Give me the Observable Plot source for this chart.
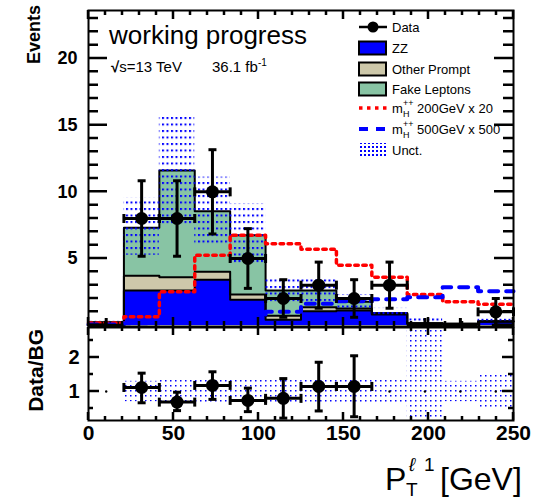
<!DOCTYPE html>
<html>
<head>
<meta charset="utf-8">
<script src="https://cdn.jsdelivr.net/npm/d3@7"></script>
<script src="https://cdn.jsdelivr.net/npm/@observablehq/plot@0.6"></script>
<style>
  body { margin: 0; background: #fff; }
  #chart { position: relative; width: 540px; height: 502px; font-family: "Liberation Sans", Arial, sans-serif; }
  #chart > svg { position: absolute; left: 0; overflow: visible; }
</style>
</head>
<body>
<div id="chart"></div>
<script>
// Leading-lepton pT histogram: 12 bins of 250/12 GeV
const binEdges = [0, 20.83, 41.67, 62.5, 83.33, 104.17, 125, 145.83, 166.67, 187.5, 208.33, 229.17, 250];

// Stacked backgrounds (events per bin)
const zz          = [0.20, 2.60, 2.60, 3.40, 1.90, 0.40, 1.05, 1.10, 0.80, 0.10, 0.05, 0.25];
const otherPrompt = [0.00, 1.10, 1.00, 0.60, 0.40, 0.30, 0.30, 0.15, 0.10, 0.05, 0.05, 0.05];
const fakeLeptons = [0.00, 3.60, 8.00, 4.55, 4.45, 1.90, 1.25, 0.50, 0.00, 0.00, 0.00, 0.00];

// Background uncertainty band
const uncLow  = [0.10, 5.25, 7.50, 5.95, 4.40, 1.65, 1.65, 1.20, 0.55, 0.00, 0.05, 0.15];
const uncHigh = [0.30, 9.55, 15.75, 11.10, 9.10, 3.55, 3.58, 2.30, 1.27, 0.70, 0.17, 0.45];

// Signal hypotheses (scaled)
const sig200 = [0.17, 0.63, 2.50, 5.25, 6.75, 6.10, 5.70, 4.50, 3.60, 2.30, 1.75, 1.57];
const sig500 = [0.05, 0.15, 0.30, 0.50, 0.75, 1.00, 1.60, 1.80, 1.95, 2.10, 2.85, 2.55];

// Observed data
const dataCounts  = [0, 8, 8, 10, 5, 2, 3, 2, 3, 0, 0, 1];
const dataErrLow  = [0, 2.83, 2.83, 3.16, 2.24, 1.41, 1.73, 1.41, 1.73, 0, 0, 1.00];
const dataErrHigh = [0.5, 2.83, 2.83, 3.16, 2.24, 1.41, 1.73, 1.41, 1.73, 0.5, 0.5, 1.00];

// Data / background ratio
const ratio     = [null, 1.12, 0.69, 1.18, 0.74, 0.80, 1.15, 1.15, null, null, null, null];
const ratioLow  = [null, 0.67, 0.44, 0.77, 0.41, 0.22, 0.43, 0.26, null, null, null, null];
const ratioHigh = [null, 1.54, 0.98, 1.58, 1.10, 1.38, 1.86, 2.05, null, null, null, null];
const ratioUncLow  = [null, 0.70, 0.65, 0.66, 0.65, 0.64, 0.65, 0.65, 0.65, 0.15, 0.70, 0.50];
const ratioUncHigh = [null, 1.30, 1.35, 1.34, 1.35, 1.36, 1.35, 1.35, 1.35, 2.88, 1.30, 1.50];

// Axis ticks
const xMajor = [0, 50, 100, 150, 200, 250];
const xMinor = [10, 20, 30, 40, 60, 70, 80, 90, 110, 120, 130, 140, 160, 170, 180, 190, 210, 220, 230, 240];
const yMajorTop = [0, 5, 10, 15, 20];
const yMinorTop = [1, 2, 3, 4, 6, 7, 8, 9, 11, 12, 13, 14, 16, 17, 18, 19, 21, 22, 23];
const yMajorRatio = [1, 2];
const yMinorRatio = [0.5, 1.5, 2.5];

const colors = { zz: "#0000ff", other: "#cdc8aa", fake: "#88c4a4", sig200: "#ff0000", sig500: "#0000ff", unc: "#0000ff" };

const bins = binEdges.slice(0, -1).map((lo, i) => ({
  lo, hi: binEdges[i + 1], mid: (lo + binEdges[i + 1]) / 2,
  zz: zz[i], zo: zz[i] + otherPrompt[i], tot: zz[i] + otherPrompt[i] + fakeLeptons[i],
  uncLow: uncLow[i], uncHigh: uncHigh[i],
  n: dataCounts[i], nLow: dataCounts[i] - dataErrLow[i], nHigh: dataCounts[i] + dataErrHigh[i],
  r: ratio[i], rLow: ratioLow[i], rHigh: ratioHigh[i],
  ruLow: ratioUncLow[i], ruHigh: ratioUncHigh[i]
}));

// histogram outline as a step line over the bin edges
const steps = vals => [...binEdges.slice(0, -1).map((x, i) => ({x, y: vals[i]})), {x: 250, y: vals[vals.length - 1]}];

// small line symbols for error-bar caps
const vCap = {draw(ctx, size) { const r = Math.sqrt(size / Math.PI); ctx.moveTo(0, -r); ctx.lineTo(0, r); }};
const hCap = {draw(ctx, size) { const r = Math.sqrt(size / Math.PI); ctx.moveTo(-r, 0); ctx.lineTo(r, 0); }};

function addPattern(svg, id, w, h, dw, dh) {
  const defs = d3.select(svg).insert("defs", ":first-child");
  const p = defs.append("pattern").attr("id", id).attr("patternUnits", "userSpaceOnUse")
    .attr("width", w).attr("height", h);
  p.append("rect").attr("width", dw).attr("height", dh).attr("fill", colors.unc);
}

const withData = bins.filter(d => d.n > 0);
const fontStyle = {fontFamily: "Liberation Sans, Arial, sans-serif", background: "transparent"};

// ---------- main panel ----------
const xDom = [0, 250];
const yDomTop = [-0.1, 23.6];
const topPlot = Plot.plot({
  width: 540, height: 326, marginLeft: 88, marginRight: 27, marginTop: 10, marginBottom: 0,
  style: fontStyle,
  x: {domain: xDom, axis: null},
  y: {domain: yDomTop},
  marks: [
    Plot.rect(bins, {x1: "lo", x2: "hi", y1: 0, y2: "zz", fill: colors.zz, shapeRendering: "crispEdges"}),
    Plot.rect(bins, {x1: "lo", x2: "hi", y1: "zz", y2: "zo", fill: colors.other, shapeRendering: "crispEdges"}),
    Plot.rect(bins, {x1: "lo", x2: "hi", y1: "zo", y2: "tot", fill: colors.fake, shapeRendering: "crispEdges"}),
    Plot.line(steps(bins.map(d => d.zz)), {x: "x", y: "y", curve: "step-after", stroke: "black", strokeWidth: 2}),
    Plot.line(steps(bins.map(d => d.zo)), {x: "x", y: "y", curve: "step-after", stroke: "black", strokeWidth: 2}),
    Plot.line(steps(bins.map(d => d.tot)), {x: "x", y: "y", curve: "step-after", stroke: "black", strokeWidth: 2}),
    Plot.rect(bins, {x1: "lo", x2: "hi", y1: "uncLow", y2: "uncHigh", fill: "url(#uncTop)"}),
    Plot.line(steps(sig200), {x: "x", y: "y", curve: "step-after", stroke: colors.sig200, strokeWidth: 3.5, strokeDasharray: "3.5,4.5"}),
    Plot.line(steps(sig500), {x: "x", y: "y", curve: "step-after", stroke: colors.sig500, strokeWidth: 4, strokeDasharray: "9,8"}),
    // data: x error bars, y error bars, caps and markers
    Plot.ruleY(bins, {x1: "lo", x2: "hi", y: "n", stroke: "black", strokeWidth: 3}),
    Plot.ruleX(bins, {x: "mid", y1: "nLow", y2: "nHigh", stroke: "black", strokeWidth: 3}),
    Plot.dot(withData, {x: "lo", y: "n", symbol: vCap, r: 4.5, stroke: "black", strokeWidth: 3, fill: "none"}),
    Plot.dot(withData, {x: "hi", y: "n", symbol: vCap, r: 4.5, stroke: "black", strokeWidth: 3, fill: "none"}),
    Plot.dot(withData, {x: "mid", y: "nLow", symbol: hCap, r: 4, stroke: "black", strokeWidth: 3, fill: "none"}),
    Plot.dot(withData, {x: "mid", y: "nHigh", symbol: hCap, r: 4, stroke: "black", strokeWidth: 3, fill: "none"}),
    Plot.dot(withData, {x: "mid", y: "n", r: 6.5, fill: "black", stroke: "none"}),
    Plot.frame({stroke: "black", strokeWidth: 2}),
    Plot.axisY({anchor: "left", ticks: [5, 10, 15, 20], tickSize: 0, tickPadding: 11, label: null,
      fontSize: 18, fontWeight: "bold", fill: "black"})
  ]
});
addPattern(topPlot, "uncTop", 4.5, 6.5, 2, 2);
topPlot.style.top = "0px";

// ---------- ratio panel ----------
const ratioBins = bins.filter(d => d.r != null);
const bandBins = bins.filter(d => d.ruLow != null);
const emptyRatio = bins.filter(d => d.r == null);
const yDomRatio = [0.15, 2.88];
const ratioTop = 325;

const ratioPlot = Plot.plot({
  width: 540, height: 177, marginLeft: 88, marginRight: 27, marginTop: 2, marginBottom: 82,
  style: fontStyle,
  x: {domain: xDom},
  y: {domain: yDomRatio},
  marks: [
    Plot.rect(bandBins, {x1: "lo", x2: "hi", y1: "ruLow", y2: "ruHigh", fill: "url(#uncRatio)", clip: true}),
    Plot.dot(emptyRatio, {x: "mid", y: 1, r: 1.2, fill: "black"}),
    Plot.ruleY(ratioBins, {x1: "lo", x2: "hi", y: "r", stroke: "black", strokeWidth: 3}),
    Plot.ruleX(ratioBins, {x: "mid", y1: "rLow", y2: "rHigh", stroke: "black", strokeWidth: 3}),
    Plot.dot(ratioBins, {x: "lo", y: "r", symbol: vCap, r: 4.5, stroke: "black", strokeWidth: 3, fill: "none"}),
    Plot.dot(ratioBins, {x: "hi", y: "r", symbol: vCap, r: 4.5, stroke: "black", strokeWidth: 3, fill: "none"}),
    Plot.dot(ratioBins, {x: "mid", y: "rLow", symbol: hCap, r: 4, stroke: "black", strokeWidth: 3, fill: "none"}),
    Plot.dot(ratioBins, {x: "mid", y: "rHigh", symbol: hCap, r: 4, stroke: "black", strokeWidth: 3, fill: "none"}),
    Plot.dot(ratioBins, {x: "mid", y: "r", r: 6.5, fill: "black", stroke: "none"}),
    Plot.frame({stroke: "black", strokeWidth: 2}),
    Plot.axisY({anchor: "left", ticks: yMajorRatio, tickSize: 0, tickPadding: 9, label: null,
      tickFormat: d => String(d), fontSize: 20, fontWeight: "bold", fill: "black"}),
    Plot.axisX({anchor: "bottom", ticks: xMajor, tickSize: 0, tickPadding: 5, label: null,
      tickFormat: d => String(d), fontSize: 21, fontWeight: "bold", fill: "black"})
  ]
});
addPattern(ratioPlot, "uncRatio", 5, 5, 1.5, 1.5);
ratioPlot.style.top = ratioTop + "px";

const chart = document.getElementById("chart");
chart.append(topPlot, ratioPlot);

// ---------- titles, labels, inward ticks and legend ----------
const ov = d3.select(chart).append("svg")
  .attr("width", 540).attr("height", 502)
  .style("top", "0px").style("pointer-events", "none")
  .style("font-family", "Liberation Sans, Arial, sans-serif");

// ROOT-style ticks pointing into each frame, placed with the panel's own scales;
// all ticks of a panel go into a single path
function inwardTicks(plot, offsetY, yMajor, yMinor, yLen, xLen) {
  const sx = plot.scale("x"), sy = plot.scale("y");
  const xl = sx.apply(xDom[0]), xr = sx.apply(xDom[1]);
  const yDom = sy.domain;
  const yb = sy.apply(yDom[0]) + offsetY, yt = sy.apply(yDom[1]) + offsetY;
  const path = d3.path();
  [[yMajor, yLen[0]], [yMinor, yLen[1]]].forEach(([ticks, len]) => ticks.forEach(v => {
    const y = sy.apply(v) + offsetY;
    path.moveTo(xl, y); path.lineTo(xl + len, y);
    path.moveTo(xr - len, y); path.lineTo(xr, y);
  }));
  [[xMajor, xLen[0]], [xMinor, xLen[1]]].forEach(([ticks, len]) => ticks.forEach(v => {
    const x = sx.apply(v);
    path.moveTo(x, yb); path.lineTo(x, yb - len);
    path.moveTo(x, yt); path.lineTo(x, yt + len);
  }));
  ov.append("path").attr("d", path.toString()).attr("fill", "none")
    .attr("stroke", "#000").attr("stroke-width", 2.5);
}
inwardTicks(topPlot, 0, yMajorTop, yMinorTop, [19, 10], [9, 5]);
inwardTicks(ratioPlot, ratioTop, yMajorRatio, yMinorRatio, [11, 5], [8, 4]);

ov.append("text").attr("transform", "translate(40,5) rotate(-90)").attr("text-anchor", "end")
  .attr("font-size", 18).attr("font-weight", "bold").text("Events");
ov.append("text").attr("transform", "translate(43,329) rotate(-90)").attr("text-anchor", "end")
  .attr("font-size", 21).attr("font-weight", "bold").text("Data/BG");

ov.append("text").attr("x", 109).attr("y", 44).attr("font-size", 26).text("working progress");
const energy = ov.append("text").attr("x", 111).attr("y", 72).attr("font-size", 15);
energy.append("tspan").attr("font-weight", "bold").text("√");
energy.append("tspan").text("s=13 TeV");
const lumi = ov.append("text").attr("x", 212).attr("y", 72).attr("font-size", 15);
lumi.append("tspan").text("36.1 fb");
lumi.append("tspan").attr("font-size", 10).attr("dy", -6).text("-1");

// x-axis title
const xt = ov.append("text").attr("x", 385).attr("y", 490).attr("font-size", 32);
xt.append("tspan").text("P");
xt.append("tspan").attr("x", 406).attr("dy", 6).attr("font-size", 19).text("T");
xt.append("tspan").attr("x", 409).attr("dy", -25).attr("font-size", 19).attr("font-style", "italic").text("ℓ");
xt.append("tspan").attr("x", 424).attr("font-size", 19).text("1");
xt.append("tspan").attr("x", 440).attr("dy", 19).text("[GeV]");

// legend
const legendEntries = [
  {label: "Data", kind: "data", y: 27},
  {label: "ZZ", kind: "box", fill: colors.zz, y: 48},
  {label: "Other Prompt", kind: "box", fill: colors.other, y: 69},
  {label: "Fake Leptons", kind: "box", fill: colors.fake, y: 89},
  {label: "200GeV x 20", kind: "line", stroke: colors.sig200, dash: "3.5,4.5", width: 3.5, y: 108, mass: true},
  {label: "500GeV x 500", kind: "line", stroke: colors.sig500, dash: "9,8", width: 4, y: 129, mass: true},
  {label: "Unct.", kind: "unc", y: 150}
];
const defs = ov.append("defs");
const lp = defs.append("pattern").attr("id", "uncLegend").attr("patternUnits", "userSpaceOnUse").attr("width", 4).attr("height", 4);
lp.append("rect").attr("width", 2).attr("height", 2).attr("fill", colors.unc);

for (const e of legendEntries) {
  const g = ov.append("g").attr("transform", `translate(0,${e.y})`);
  if (e.kind === "data") {
    g.append("line").attr("x1", 359).attr("x2", 387).attr("stroke", "black").attr("stroke-width", 2.5);
    g.append("circle").attr("cx", 373).attr("r", 5.5).attr("fill", "black");
  } else if (e.kind === "box") {
    g.append("rect").attr("x", 359).attr("y", -6.5).attr("width", 27).attr("height", 13)
      .attr("fill", e.fill).attr("stroke", "black").attr("stroke-width", 2);
  } else if (e.kind === "line") {
    g.append("line").attr("x1", 359).attr("x2", 387).attr("stroke", e.stroke)
      .attr("stroke-width", e.width).attr("stroke-dasharray", e.dash);
  } else {
    g.append("rect").attr("x", 359).attr("y", -7).attr("width", 28).attr("height", 14).attr("fill", "url(#uncLegend)");
  }
  const t = g.append("text").attr("x", 392).attr("y", 5).attr("font-size", 13);
  if (e.mass) {
    t.append("tspan").text("m");
    t.append("tspan").attr("x", 403).attr("dy", 4).attr("font-size", 9).text("H");
    t.append("tspan").attr("x", 403).attr("dy", -11).attr("font-size", 9).text("++");
    t.append("tspan").attr("x", 417).attr("dy", 7).text(e.label);
  } else {
    t.text(e.label);
  }
}
</script>
</body>
</html>
